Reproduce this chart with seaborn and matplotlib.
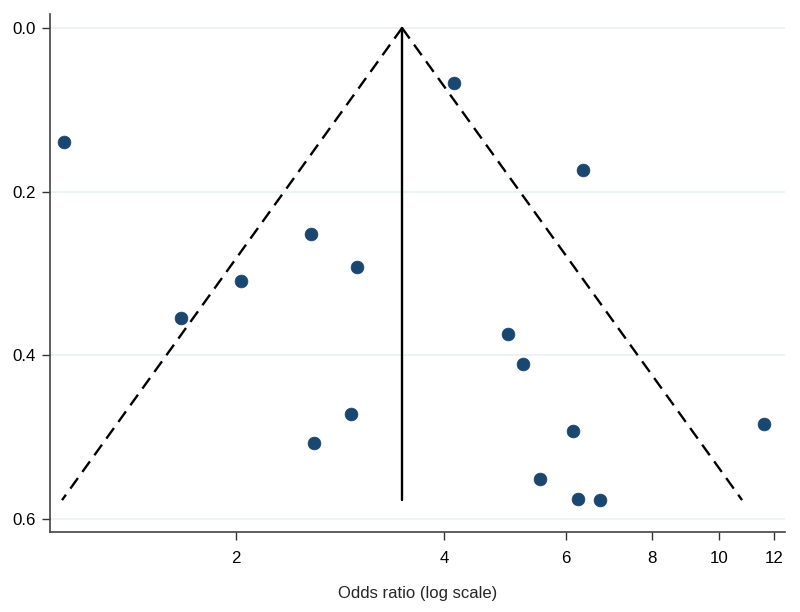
import numpy as np
import pandas as pd
import matplotlib
matplotlib.use("Agg")
import matplotlib.pyplot as plt
from matplotlib.ticker import FixedLocator, NullLocator, FuncFormatter
import seaborn as sns

# Study data (odds ratio, standard error of log OR)
odds_ratio = [1.13, 1.67, 2.04, 2.57, 3.00, 2.94, 2.60, 4.13, 6.35, 4.95,
              5.20, 6.14, 11.59, 5.50, 6.25, 6.72]
std_error = [0.139, 0.355, 0.309, 0.252, 0.292, 0.472, 0.507, 0.067, 0.174, 0.374,
             0.411, 0.492, 0.484, 0.551, 0.576, 0.577]
pooled_or = 3.48
max_se = 0.577
x_ticks = [2, 4, 6, 8, 10, 12]
y_ticks = [0.0, 0.2, 0.4, 0.6]

df = pd.DataFrame({"or": odds_ratio, "se": std_error})

sns.set_theme(style="white")
plt.rcParams["font.family"] = ["Liberation Sans", "DejaVu Sans"]

fig = plt.figure(figsize=(8, 6.12), dpi=100)
ax = fig.add_axes([0.0625, 0.1307, 0.9185, 0.8463])

# gridlines
for yv in y_ticks:
    ax.axhline(yv, color="#eaf2f3", lw=1.3, zorder=0)

# funnel (pseudo 95% limits)
se_line = np.array([0.0, max_se])
lo = np.exp(np.log(pooled_or) - 1.96 * se_line)
hi = np.exp(np.log(pooled_or) + 1.96 * se_line)
ax.plot(lo, se_line, color="black", ls=(0, (5.5, 3.2)), lw=1.7, zorder=2)
ax.plot(hi, se_line, color="black", ls=(0, (5.5, 3.2)), lw=1.7, zorder=2)
ax.plot([pooled_or, pooled_or], se_line, color="black", lw=1.7, zorder=2)

sns.scatterplot(data=df, x="or", y="se", ax=ax, color="#1a476f", s=85,
                edgecolor="#1a476f", linewidth=0.5, zorder=3, legend=False)

ax.set_xscale("log")
ax.set_xlim(1.079, 12.43)
ax.set_ylim(0.616, -0.017)

ax.xaxis.set_major_locator(FixedLocator(x_ticks))
ax.xaxis.set_minor_locator(NullLocator())
ax.xaxis.set_major_formatter(FuncFormatter(lambda v, p: f"{v:g}"))
ax.yaxis.set_major_locator(FixedLocator(y_ticks))
ax.yaxis.set_major_formatter(FuncFormatter(lambda v, p: f"{v:.1f}"))

ax.tick_params(axis="both", which="major", direction="out", length=6, width=1.0,
               color="#333333", labelsize=12.2, labelcolor="black",
               bottom=True, left=True, pad=4)
ax.tick_params(axis="x", pad=8)

for side in ["top", "right"]:
    ax.spines[side].set_visible(False)
for side in ["left", "bottom"]:
    ax.spines[side].set_color("#444444")
    ax.spines[side].set_linewidth(1.2)

ax.set_xlabel("Odds ratio (log scale)", fontsize=12, labelpad=14)
ax.set_ylabel("")

fig.savefig("out.png", dpi=100)
